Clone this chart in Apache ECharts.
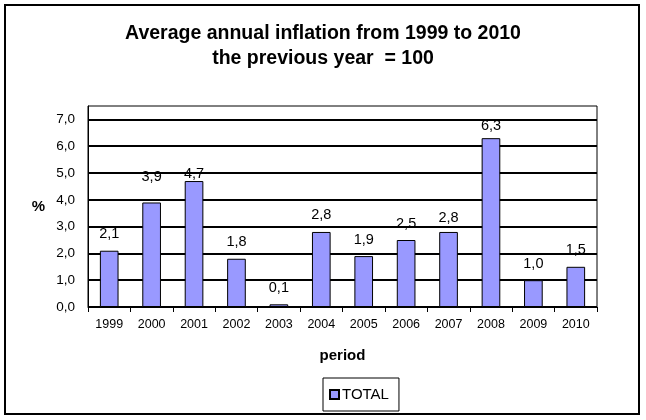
<!DOCTYPE html>
<html>
<head>
<meta charset="utf-8">
<script src="https://cdn.jsdelivr.net/npm/echarts@6/dist/echarts.min.js"></script>
<style>
html,body{margin:0;padding:0;background:#fff;}
#chart{width:646px;height:420px;}
</style>
</head>
<body>
<div id="chart"></div>
<script>
const categories = ['1999','2000','2001','2002','2003','2004','2005','2006','2007','2008','2009','2010'];
const totalValues = [2.1, 3.9, 4.7, 1.8, 0.1, 2.8, 1.9, 2.5, 2.8, 6.3, 1.0, 1.5];
const seriesName = 'TOTAL';
const titleText = 'Average annual inflation from 1999 to 2010\nthe previous year  = 100';
const xAxisName = 'period';
const yAxisName = '%';

const FONT = '"Liberation Sans", Arial, sans-serif';
const fmt = v => v.toFixed(1).replace('.', ',');
// label vertical nudges (style only), by category index
const labelNudge = {1: -9, 2: 9, 8: 3, 9: 4};

const chart = echarts.init(document.getElementById('chart'), null, {renderer: 'canvas'});
chart.setOption({
  backgroundColor: '#fff',
  animation: false,
  title: {
    text: titleText,
    left: 'center',
    top: 16,
    textStyle: {fontFamily: FONT, fontSize: 19.5, fontWeight: 'bold', color: '#000', lineHeight: 25}
  },
  graphic: [{
    type: 'rect',
    shape: {x: 5, y: 5, width: 634, height: 409},
    style: {fill: 'none', stroke: '#000', lineWidth: 2},
    silent: true
  }],
  legend: {
    data: [seriesName],
    left: 323,
    top: 378,
    padding: [9, 10, 9, 6],
    borderColor: '#000',
    borderWidth: 1,
    itemWidth: 9,
    itemHeight: 9,
    itemGap: 4,
    icon: 'rect',
    textStyle: {fontFamily: FONT, fontSize: 15, color: '#000', padding: [0, 0, 0, -2]}
  },
  grid: {
    left: 88, right: 49, top: 106, bottom: 113,
    show: true, borderColor: '#000', borderWidth: 1, backgroundColor: '#fff'
  },
  xAxis: {
    type: 'category',
    data: categories,
    boundaryGap: true,
    name: xAxisName,
    nameLocation: 'middle',
    nameGap: 41,
    nameTextStyle: {fontFamily: FONT, fontSize: 15, fontWeight: 'bold', color: '#000'},
    axisLine: {lineStyle: {color: '#000', width: 1}},
    axisTick: {show: true, length: 5, lineStyle: {color: '#000'}},
    axisLabel: {fontFamily: FONT, fontSize: 12.5, color: '#000', margin: 11, interval: 0}
  },
  yAxis: {
    type: 'value',
    min: 0, max: 7.5, interval: 1,
    name: yAxisName,
    nameLocation: 'middle',
    nameRotate: 0,
    nameGap: 43,
    nameTextStyle: {fontFamily: FONT, fontSize: 15, fontWeight: 'bold', color: '#000'},
    axisLine: {show: true, lineStyle: {color: '#000', width: 1}},
    axisTick: {show: false},
    axisLabel: {
      fontFamily: FONT, fontSize: 13.5, color: '#000', margin: 13,
      formatter: v => (v > 7.01 ? '' : fmt(v))
    },
    splitLine: {show: true, lineStyle: {color: ['#000','#000','#000','#000','#000','#000','#000','#000','rgba(0,0,0,0)'], width: 2}}
  },
  series: [{
    name: seriesName,
    type: 'bar',
    barWidth: '44%',
    data: totalValues.map((v, i) => ({
      value: v,
      label: {offset: [0, labelNudge[i] || 0]}
    })),
    itemStyle: {color: '#9999FF', borderColor: '#000', borderWidth: 1},
    label: {
      show: true,
      position: 'top',
      distance: 9,
      fontFamily: FONT,
      fontSize: 14.5,
      color: '#000',
      formatter: p => fmt(p.value)
    }
  }]
});
</script>
</body>
</html>
